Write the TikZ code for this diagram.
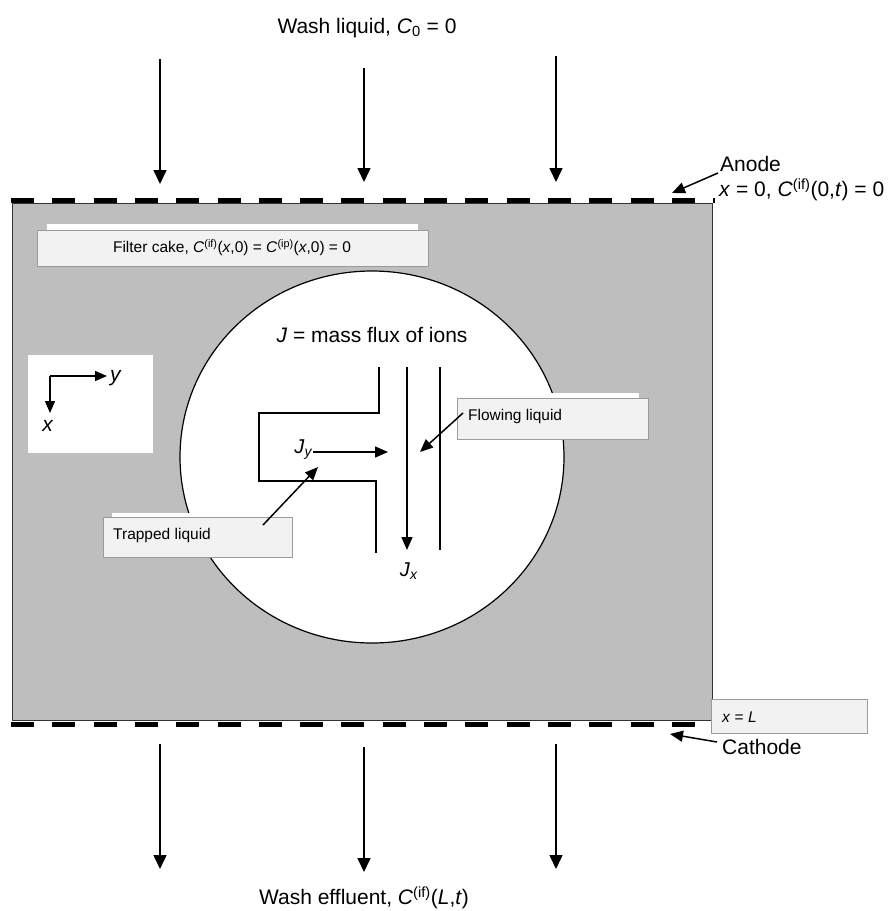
\documentclass[tikz,border=0pt]{standalone}
\usepackage{fontspec}
\setmainfont{Liberation Sans}
\usetikzlibrary{arrows.meta,shapes.geometric}
\definecolor{cakegray}{RGB}{190,190,190}
\definecolor{boxfill}{RGB}{242,242,242}
\definecolor{boxline}{RGB}{155,155,155}
\begin{document}
\begin{tikzpicture}[x=1pt,y=-1pt,
  big/.style={font=\fontsize{21}{25}\selectfont, inner sep=0pt},
  mid/.style={font=\fontsize{20}{24}\selectfont, inner sep=0pt},
  small/.style={font=\fontsize{15.5}{18}\selectfont, inner sep=0pt},
  flowarr/.style={line width=1.6pt, -{Triangle[length=14pt,width=13pt]}},
  ptr/.style={line width=1.5pt, -{Triangle[length=13pt,width=11pt]}},
  lbox/.style={draw=boxline, fill=boxfill, line width=1pt, inner sep=0pt, anchor=north west},
  wall/.style={line width=1.3pt},
  electrode/.style={line width=5pt, dash pattern=on 23pt off 18.3pt}
]
\useasboundingbox (0,0) rectangle (888,911);

% filter cake
\node[draw=black!80, fill=cakegray, line width=1.4pt, minimum width=700pt, minimum height=517pt, inner sep=0pt, anchor=north west] (cake) at (12,203) {};
\draw[electrode] (11,200.5) -- (715,200.5);
\draw[electrode] (11,724) -- (715,724);

% top texts and arrows
\node[big] (wash) at (367,28) {Wash liquid, \textit{C}\textsubscript{0} = 0};
\foreach \i/\xx/\ya/\yb in {1/160/59/184, 2/364/68/182, 3/556/56/182}{
  \coordinate (ti\i) at (\xx,\ya);
  \coordinate (to\i) at (\xx,\yb);
  \draw[flowarr] (ti\i) -- (to\i);
}
\foreach \i/\xx/\ya/\yb in {1/160/744/869, 2/364/747/872, 3/556/744/869}{
  \coordinate (bi\i) at (\xx,\ya);
  \coordinate (bo\i) at (\xx,\yb);
  \draw[flowarr] (bi\i) -- (bo\i);
}
\node[big] (effluent) at (364,898) {Wash effluent, \textit{C}\textsuperscript{(if)}(\textit{L},\textit{t})};

% anode / cathode
\node[big, anchor=west] (anode) at (720,164) {Anode};
\node[big, anchor=west] (anodecond) at (719,190) {\textit{x} = 0, \textit{C}\textsuperscript{(if)}(0,\textit{t}) = 0};
\coordinate (anodetip) at (672,193);
\draw[ptr] (718,173) coordinate (anodestart) -- (anodetip);
\node[big, anchor=west] (cathode) at (722,747) {Cathode};
\coordinate (cathodetip) at (670,734);
\draw[ptr] (717,742) coordinate (cathodestart) -- (cathodetip);

% x = L box
\node[lbox, minimum width=156pt, minimum height=34pt] (xLbox) at (711,699) {};
\node[small, anchor=west] (xL) at (722,717) {\textit{x} = \textit{L}};

% filter cake label
\fill[white] (47,224) rectangle (418,262);
\node[lbox, minimum width=391pt, minimum height=36pt] (cakebox) at (37,230) {};
\node[small] (caketxt) at (232,248) {Filter cake, \textit{C}\textsuperscript{(if)}(\textit{x},0) = \textit{C}\textsuperscript{(ip)}(\textit{x},0) = 0};

% coordinate axes
\node[fill=white, minimum width=125pt, minimum height=98pt, inner sep=0pt, anchor=north west] (axbox) at (28,355) {};
\coordinate (origin) at (50,376);
\coordinate (ytip) at (107,376);
\coordinate (xtip) at (50,413);
\draw[line width=1.5pt, -{Triangle[length=12pt,width=10pt]}] (origin) -- (ytip);
\draw[line width=1.5pt, -{Triangle[length=12pt,width=10pt]}] (origin) -- (xtip);
\node[big] (ylab) at (116,378) {\textit{y}};
\node[big] (xlab) at (48,426) {\textit{x}};

% pore (circle)
\node[ellipse, draw=black, fill=white, line width=1.2pt, minimum width=384pt, minimum height=372pt, inner sep=0pt] (pore) at (372,457) {};
\node[big] (fluxtxt) at (372,335) {\textit{J} = mass flux of ions};

% channel walls
\draw[wall] (379,367) -- (379,413) -- (259,413) -- (259,481) -- (376,481) -- (376,553);
\draw[wall] (440,367) -- (440,550);
\coordinate (jxs) at (407,367);
\coordinate (jxe) at (407,550);
\draw[ptr] (jxs) -- (jxe);
\node[mid] (jx) at (409,571) {\textit{J}\textsubscript{\textit{x}}};
\node[mid, anchor=east] (jy) at (313,450) {\textit{J}\textsubscript{\textit{y}}};
\coordinate (jye) at (388,452);
\draw[ptr] (jy.east |- jye) -- (jye);

% flowing liquid label
\fill[white] (463,393) rectangle (639,435);
\node[lbox, minimum width=191pt, minimum height=41pt] (flowbox) at (457,398) {};
\node[small, anchor=west] (flowtxt) at (468,416) {Flowing liquid};
\coordinate (flowtip) at (420,452);
\draw[ptr] (463,413) coordinate (flowstart) -- (flowtip);

% trapped liquid label
\fill[white] (112,513) rectangle (285,553);
\node[lbox, minimum width=189pt, minimum height=40pt] (trapbox) at (103,517) {};
\node[small, anchor=west] (traptxt) at (113,535) {Trapped liquid};
\coordinate (traptip) at (318,467);
\draw[ptr] (263,525) coordinate (trapstart) -- (traptip);
\end{tikzpicture}
\end{document}
